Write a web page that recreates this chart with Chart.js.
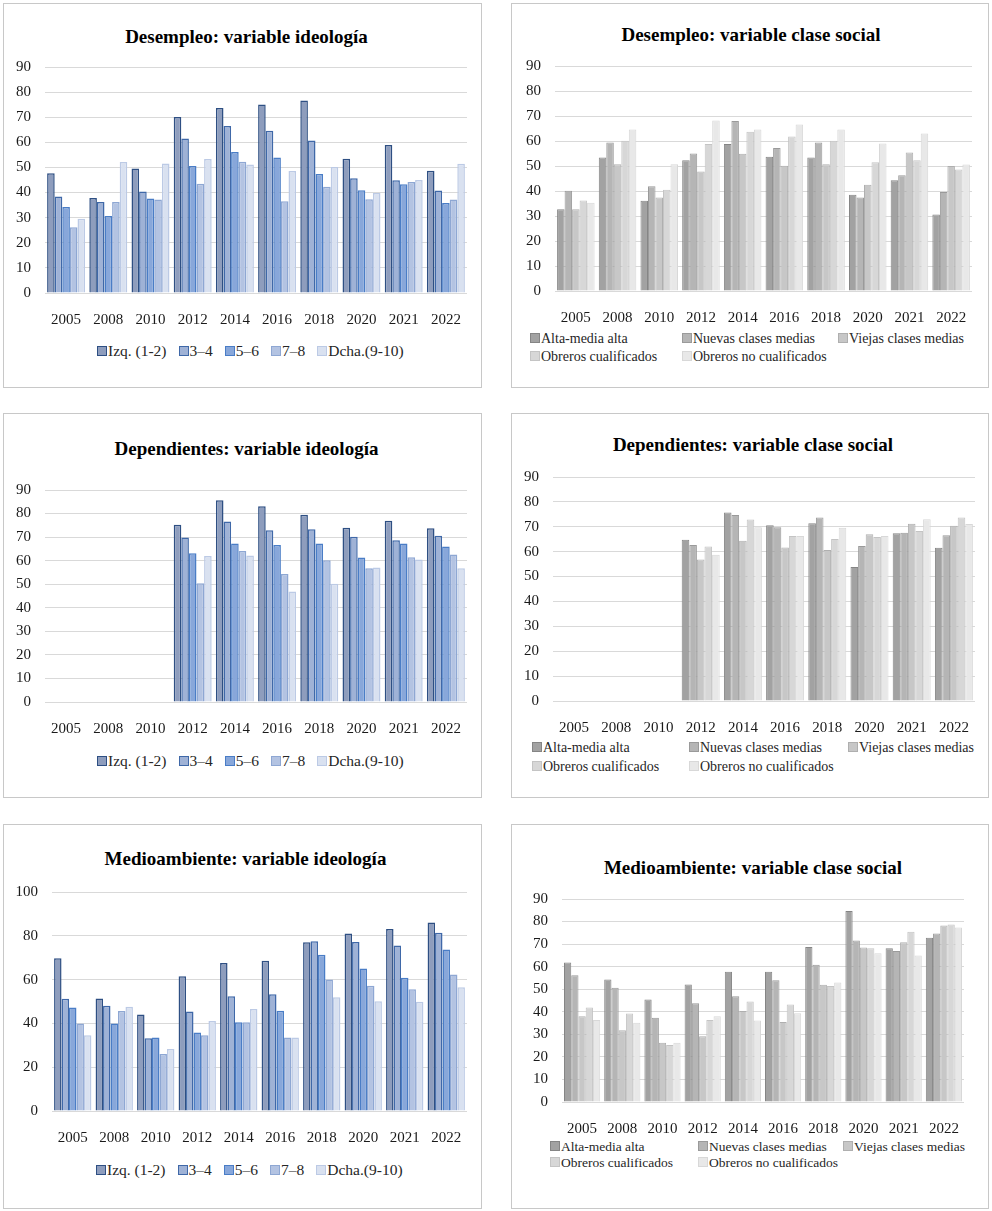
<!DOCTYPE html>
<html>
<head>
<meta charset="utf-8">
<script src="https://cdn.jsdelivr.net/npm/chart.js@4.4.0/dist/chart.umd.min.js"></script>
<style>
  body { margin: 0; background: #fff; width: 992px; height: 1211px; position: relative; overflow: hidden; font-family: "Liberation Serif", serif; color: #000; }
  .panel { position: absolute; border: 1px solid #c8c8c8; box-sizing: border-box; background: #fff; font-family: "Liberation Serif", serif; }
  .panel canvas { position: absolute; left: 0; top: 0; }
  .titulo { position: absolute; width: 100%; text-align: center; font-weight: bold; font-size: 19px; line-height: 20px; white-space: nowrap; font-family: "Liberation Serif", serif; }
  .leyenda { position: absolute; white-space: nowrap; color: #262626; font-family: "Liberation Serif", serif; }
  .item { position: absolute; white-space: nowrap; line-height: 16px; font-family: "Liberation Serif", serif; }
  .caja { display: inline-block; width: 8px; height: 8px; border: 1px solid; margin-right: 1px; vertical-align: 0px; }
</style>
</head>
<body>
<script>
// Años (eje X)
const years = ['2005', '2008', '2010', '2012', '2014', '2016', '2018', '2020', '2021', '2022'];

// Series
const ideologia = ['Izq. (1-2)', '3–4', '5–6', '7–8', 'Dcha.(9-10)'];
const clases = ['Alta-media alta', 'Nuevas clases medias', 'Viejas clases medias', 'Obreros cualificados', 'Obreros no cualificados'];

// Ticks del eje Y
const ticks90 = [0, 10, 20, 30, 40, 50, 60, 70, 80, 90];
const ticks100 = [0, 20, 40, 60, 80, 100];

// Colores
const colIdeoFondo = ['#8e9dbd', '#9fb2d6', '#88a7da', '#b3c3e2', '#d9e1f0'];
const colIdeoBorde = ['#2e4f83', '#3f68a8', '#4a7dc6', '#8ea7d3', '#bccae5'];
const colClaseFondo = ['#a2a2a2', '#b5b5b5', '#c7c7c7', '#d7d7d7', '#e8e8e8'];
const colClaseBorde = ['#858585', '#9a9a9a', '#afafaf', '#c4c4c4', '#d8d8d8'];

// DESEMPLEO - ideologia
const desempleoIzq   = [47.7, 37.8, 49.6, 70.1, 73.7, 75.1, 76.7, 53.5, 58.9, 48.7];
const desempleo34    = [38.4, 36.2, 40.4, 61.5, 66.5, 64.6, 60.7, 45.7, 44.9, 40.8];
const desempleo56    = [34.2, 30.7, 37.6, 50.6, 56.2, 54.0, 47.4, 40.9, 43.3, 35.8];
const desempleo78    = [26.2, 36.2, 37.2, 43.5, 52.3, 36.5, 42.3, 37.3, 44.2, 37.2];
const desempleoDcha  = [29.6, 52.2, 51.6, 53.4, 51.2, 48.6, 50.2, 39.8, 45.0, 51.5];

// DESEMPLEO - clase social
const desempleoAlta    = [32.7, 53.4, 36.1, 52.3, 58.8, 53.7, 53.4, 38.5, 44.3, 30.6];
const desempleoNuevas  = [40.1, 59.4, 41.9, 55.0, 68.0, 57.2, 59.4, 37.4, 46.3, 39.6];
const desempleoViejas  = [32.7, 50.7, 37.4, 47.8, 54.9, 50.1, 50.7, 42.5, 55.4, 50.0];
const desempleoObrCual = [36.2, 60.1, 40.5, 58.8, 63.7, 61.8, 60.1, 51.5, 52.3, 48.6];
const desempleoObrNo   = [35.3, 64.6, 50.7, 68.2, 64.6, 66.6, 64.6, 59.0, 63.0, 50.6];

// DEPENDIENTES - ideologia
const dependIzq  = [null, null, null, 75.2, 85.6, 83.1, 79.5, 74.0, 76.9, 73.8];
const depend34   = [null, null, null, 69.8, 76.6, 72.9, 73.3, 70.2, 68.7, 70.6];
const depend56   = [null, null, null, 63.2, 67.3, 66.7, 67.3, 61.3, 67.3, 66.0];
const depend78   = [null, null, null, 50.4, 64.1, 54.3, 60.2, 56.8, 61.5, 62.6];
const dependDcha = [null, null, null, 62.0, 62.2, 46.9, 50.2, 57.1, 60.5, 56.8];

// DEPENDIENTES - clase social
const dependAlta    = [null, null, null, 64.8, 75.7, 70.6, 71.4, 53.8, 67.4, 61.6];
const dependNuevas  = [null, null, null, 62.7, 74.7, 69.8, 73.7, 62.3, 67.6, 66.6];
const dependViejas  = [null, null, null, 56.9, 64.4, 61.7, 60.7, 67.0, 71.2, 70.4];
const dependObrCual = [null, null, null, 62.1, 72.9, 66.3, 65.1, 65.9, 68.3, 73.7];
const dependObrNo   = [null, null, null, 58.8, 69.8, 66.3, 69.6, 66.3, 73.0, 71.1];

// MEDIOAMBIENTE - ideologia
const medioIzq  = [69.7, 51.4, 44.1, 61.5, 67.6, 68.6, 77.0, 81.1, 83.1, 86.1];
const medio34   = [51.3, 48.1, 33.2, 45.4, 52.4, 53.3, 77.5, 77.2, 75.6, 81.4];
const medio56   = [47.3, 40.0, 33.6, 35.9, 40.5, 45.8, 71.4, 65.1, 60.9, 73.8];
const medio78   = [40.0, 45.7, 26.0, 34.6, 40.5, 33.6, 60.0, 57.2, 55.6, 62.3];
const medioDcha = [34.6, 47.6, 28.3, 41.1, 46.6, 33.6, 51.9, 50.1, 49.9, 56.5];

// MEDIOAMBIENTE - clase social
const medioAlta    = [61.9, 54.3, 45.4, 52.1, 57.7, 57.7, 68.7, 84.7, 68.2, 72.8];
const medioNuevas  = [56.2, 50.6, 37.3, 43.8, 46.9, 54.0, 60.8, 71.6, 66.9, 74.7];
const medioViejas  = [38.0, 31.8, 26.3, 29.2, 40.4, 35.5, 52.0, 68.5, 70.8, 78.3];
const medioObrCual = [41.9, 39.2, 25.3, 36.3, 44.6, 43.2, 51.4, 68.2, 75.5, 78.7];
const medioObrNo   = [36.4, 35.1, 26.3, 38.0, 36.1, 39.4, 53.0, 65.9, 65.0, 77.4];

// Paneles: posicion de la caja, del area del grafico y de titulo/leyenda (px absolutos)
const paneles = [
  { titulo: 'Desempleo: variable ideología', tipo: 'ideo', series: [desempleoIzq, desempleo34, desempleo56, desempleo78, desempleoDcha], ticks: ticks90,
    caja: [3, 3, 479, 385], area: [45, 67, 467, 293], tituloY: 37, tituloDx: 4, leyendaY: [351], leyendaX: [97] },
  { titulo: 'Desempleo: variable clase social', tipo: 'clase', series: [desempleoAlta, desempleoNuevas, desempleoViejas, desempleoObrCual, desempleoObrNo], ticks: ticks90,
    caja: [511, 3, 478, 385], area: [555, 66, 972, 291], tituloY: 35, tituloDx: 1, leyendaY: [339, 357], leyendaX: [530, 682, 838], fuente: 14 },
  { titulo: 'Dependientes: variable ideología', tipo: 'ideo', series: [dependIzq, depend34, depend56, depend78, dependDcha], ticks: ticks90,
    caja: [3, 413, 479, 385], area: [45, 490, 467, 702], tituloY: 449, tituloDx: 4, leyendaY: [761], leyendaX: [97] },
  { titulo: 'Dependientes: variable clase social', tipo: 'clase', series: [dependAlta, dependNuevas, dependViejas, dependObrCual, dependObrNo], ticks: ticks90,
    caja: [511, 413, 478, 385], area: [553, 477, 975, 701], tituloY: 445, tituloDx: 3, leyendaY: [748, 767], leyendaX: [532, 689, 848], fuente: 14 },
  { titulo: 'Medioambiente: variable ideología', tipo: 'ideo', series: [medioIzq, medio34, medio56, medio78, medioDcha], ticks: ticks100,
    caja: [3, 824, 479, 385], area: [52, 892, 467, 1111], tituloY: 859, tituloDx: 3, leyendaY: [1170], leyendaX: [96] },
  { titulo: 'Medioambiente: variable clase social', tipo: 'clase', series: [medioAlta, medioNuevas, medioViejas, medioObrCual, medioObrNo], ticks: ticks90,
    caja: [511, 824, 478, 385], area: [562, 899, 964, 1102], tituloY: 868, tituloDx: 3, leyendaY: [1147, 1163], leyendaX: [550, 698, 843], fuente: 13.5 }
];

const EJE_Y = 40, EJE_X = 40;

paneles.forEach(p => {
  const [px, py, pw, ph] = p.caja;
  const ox = px + 1, oy = py + 1; // origen del contenido (dentro del borde)
  const cw = pw - 2, ch = ph - 2;

  const div = document.createElement('div');
  div.className = 'panel';
  div.style.left = px + 'px'; div.style.top = py + 'px';
  div.style.width = pw + 'px'; div.style.height = ph + 'px';
  document.body.appendChild(div);

  // Titulo
  const t = document.createElement('div');
  t.className = 'titulo';
  t.textContent = p.titulo;
  t.style.left = (2 * p.tituloDx) + 'px';
  t.style.width = (cw - 2 * p.tituloDx) + 'px';
  t.style.left = p.tituloDx + 'px';
  t.style.width = cw + 'px';
  t.style.top = (p.tituloY - oy - 10) + 'px';
  div.appendChild(t);

  const nombres = p.tipo == 'ideo' ? ideologia : clases;
  const fondo = p.tipo == 'ideo' ? colIdeoFondo : colClaseFondo;
  const borde = p.tipo == 'ideo' ? colIdeoBorde : colClaseBorde;

  // Leyenda
  if (p.tipo == 'ideo') {
    const ley = document.createElement('div');
    ley.className = 'leyenda';
    ley.style.left = (p.leyendaX[0] - ox) + 'px';
    ley.style.top = (p.leyendaY[0] - oy - 9) + 'px';
    ley.style.fontSize = '15.5px';
    ley.style.lineHeight = '18px';
    ley.innerHTML = nombres.map((n, i) =>
      `<span style="margin-right:12px"><span class="caja" style="background:${fondo[i]};border-color:${borde[i]}"></span>${n}</span>`).join('');
    div.appendChild(ley);
  } else {
    nombres.forEach((n, i) => {
      const it = document.createElement('div');
      it.className = 'item';
      it.style.fontSize = p.fuente + 'px';
      it.style.color = '#262626';
      it.style.left = (p.leyendaX[i % 3] - ox) + 'px';
      it.style.top = (p.leyendaY[Math.floor(i / 3)] - oy - 8) + 'px';
      it.innerHTML = `<span class="caja" style="background:${fondo[i]};border-color:${borde[i]}"></span>${n}`;
      div.appendChild(it);
    });
  }

  // Canvas
  const canvas = document.createElement('canvas');
  canvas.width = cw; canvas.height = ch;
  canvas.style.width = cw + 'px'; canvas.style.height = ch + 'px';
  div.appendChild(canvas);

  const [aL, aT, aR, aB] = p.area;
  const tickMax = p.ticks[p.ticks.length - 1];
  const fuenteEje = { family: 'Liberation Serif', size: 15 };

  new Chart(canvas, {
    type: 'bar',
    data: {
      labels: years,
      datasets: p.series.map((vals, i) => ({
        label: nombres[i],
        data: vals,
        backgroundColor: fondo[i],
        borderColor: borde[i],
        borderWidth: p.tipo == 'ideo' ? 1.5 : 1,
        categoryPercentage: 0.9,
        barPercentage: 1.0
      }))
    },
    options: {
      responsive: false,
      animation: false,
      devicePixelRatio: 1,
      layout: { padding: { left: aL - ox - EJE_Y, top: aT - oy, right: (ox + cw) - aR, bottom: (oy + ch) - aB - EJE_X } },
      plugins: { legend: { display: false }, title: { display: false }, tooltip: { enabled: false } },
      scales: {
        x: {
          grid: { display: false },
          border: { display: false },
          ticks: { color: '#1a1a1a', font: fuenteEje, padding: 10, maxRotation: 0 },
          afterFit: s => { s.height = EJE_X; }
        },
        y: {
          min: 0, max: tickMax,
          afterBuildTicks: s => { s.ticks = p.ticks.map(v => ({ value: v })); },
          grid: { color: '#d9d9d9', lineWidth: 1, drawTicks: false },
          border: { display: false },
          ticks: { color: '#1a1a1a', font: fuenteEje, padding: 14 },
          afterFit: s => { s.width = EJE_Y; }
        }
      }
    }
  });
});
</script>
</body>
</html>
